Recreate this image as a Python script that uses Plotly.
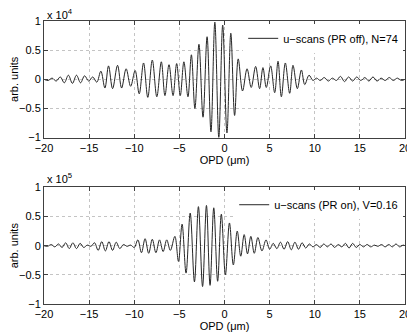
import plotly.graph_objects as go

# OPD positions (um) and signal extrema
# top panel values are in units of 1e4, bottom panel in units of 1e5
off_opd = [-20.0, -19.55, -19.1, -18.65, -18.2, -17.75, -17.3, -16.85, -16.4, -15.95,
           -15.5, -15.05, -14.6, -14.15, -13.7, -13.25, -12.85, -12.4, -11.85, -11.4,
           -10.9, -10.4, -9.9, -9.45, -8.97, -8.5, -8.0, -7.5, -7.0, -6.6,
           -6.15, -5.7, -5.3, -4.9, -4.5, -4.05, -3.67, -3.28, -2.83, -2.38,
           -1.93, -1.5, -1.07, -0.63, -0.2, 0.27, 0.7, 1.12, 1.52, 2.0,
           2.5, 2.96, 3.45, 3.89, 4.26, 4.63, 5.11, 5.56, 5.93, 6.3,
           6.74, 7.22, 7.59, 8.07, 8.52, 8.89, 9.37, 9.8, 10.2, 10.6,
           11.05, 11.5, 11.95, 12.4, 12.85, 13.3, 13.75, 14.2, 14.65, 15.1,
           15.55, 16.0, 16.45, 16.9, 17.35, 17.8, 18.25, 18.7, 19.15, 19.6, 20.0]
off_signal = [0.0, -0.02, 0.02, -0.03, 0.04, -0.06, 0.07, -0.07, 0.07, -0.06,
              0.06, -0.03, 0.04, -0.05, 0.14, -0.15, 0.23, -0.16, 0.24, -0.15,
              0.18, -0.12, 0.15, -0.25, 0.28, -0.31, 0.33, -0.3, 0.3, -0.28,
              0.25, -0.28, 0.27, -0.28, 0.3, -0.3, 0.42, -0.5, 0.6, -0.65,
              0.73, -0.9, 0.98, -1.0, 0.93, -0.92, 0.79, -0.62, 0.35, -0.2,
              0.18, -0.14, 0.22, -0.16, 0.2, -0.14, 0.23, -0.23, 0.31, -0.3,
              0.28, -0.24, 0.24, -0.16, 0.16, -0.09, 0.07, -0.02, 0.02, -0.02,
              0.03, -0.03, 0.02, -0.02, 0.05, -0.04, 0.04, -0.03, 0.04, -0.02,
              0.03, -0.03, 0.04, -0.03, 0.02, -0.02, 0.03, -0.02, 0.02, -0.02, 0.0]

on_opd = [-20.0, -19.6, -19.2, -18.8, -18.4, -18.0, -17.6, -17.2, -16.8, -16.4,
          -16.0, -15.6, -15.2, -14.8, -14.4, -14.0, -13.6, -13.2, -12.8, -12.4,
          -12.0, -11.6, -11.2, -10.8, -10.4, -10.0, -9.6, -9.2, -8.8, -8.4,
          -8.0, -7.6, -7.2, -6.8, -6.4, -6.0, -5.5, -5.1, -4.7, -4.26,
          -3.8, -3.33, -2.89, -2.43, -2.0, -1.6, -1.19, -0.76, -0.35, 0.1,
          0.55, 0.98, 1.41, 1.8, 2.18, 2.55, 2.92, 3.3, 3.7, 4.15,
          4.6, 5.0, 5.4, 5.8, 6.2, 6.6, 7.0, 7.4, 7.8, 8.2,
          8.6, 9.0, 9.4, 9.8, 10.2, 10.6, 11.0, 11.4, 11.8, 12.2,
          12.6, 13.0, 13.4, 13.8, 14.2, 14.6, 15.0, 15.4, 15.8, 16.2,
          16.6, 17.0, 17.4, 17.8, 18.2, 18.6, 19.0, 19.4, 19.8, 20.0]
on_signal = [0.0, -0.01, 0.02, -0.02, 0.03, -0.03, 0.05, -0.05, 0.05, -0.05,
             0.04, -0.03, 0.01, -0.01, 0.05, -0.08, 0.07, -0.09, 0.07, -0.08,
             0.06, -0.05, 0.02, -0.01, 0.01, -0.03, 0.1, -0.12, 0.12, -0.13,
             0.11, -0.12, 0.1, -0.1, 0.1, -0.08, 0.16, -0.27, 0.37, -0.47,
             0.56, -0.62, 0.67, -0.7, 0.69, -0.68, 0.65, -0.61, 0.54, -0.5,
             0.39, -0.33, 0.25, -0.18, 0.19, -0.14, 0.16, -0.13, 0.14, -0.09,
             0.1, -0.06, 0.04, -0.05, 0.06, -0.06, 0.07, -0.07, 0.06, -0.06,
             0.05, -0.04, 0.03, -0.02, 0.02, -0.03, 0.03, -0.02, 0.03, -0.03,
             0.02, -0.02, 0.04, -0.04, 0.04, -0.03, 0.02, -0.02, 0.02, -0.02,
             0.01, -0.01, 0.02, -0.02, 0.02, -0.02, 0.03, -0.02, 0.01, 0.0]

x_ticks = [-20, -15, -10, -5, 0, 5, 10, 15, 20]
y_ticks = [-1, -0.5, 0, 0.5, 1]

FONT = "Liberation Sans, Arial, sans-serif"
LINE = "#262626"

fig = go.Figure()

fig.add_trace(go.Scatter(
    x=off_opd, y=off_signal, mode="lines", line_shape="spline",
    line=dict(color=LINE, width=1),
    name="u\u2212scans (PR off), N=74",
    xaxis="x", yaxis="y", legend="legend", showlegend=True,
))
fig.add_trace(go.Scatter(
    x=on_opd, y=on_signal, mode="lines", line_shape="spline",
    line=dict(color=LINE, width=1),
    name="u\u2212scans (PR on), V=0.16",
    xaxis="x2", yaxis="y2", legend="legend2", showlegend=True,
))

axis_style = dict(
    showgrid=True, gridcolor="#c4c4c4", griddash="dot", gridwidth=1,
    showline=True, linecolor="#404040", linewidth=1, mirror="ticks",
    ticks="inside", ticklen=4, tickcolor="#404040",
    zeroline=False, automargin=False, tickfont=dict(size=11, color="black"),
)

x_style = dict(axis_style, range=[-20, 20], tickvals=x_ticks,
               title=dict(text="OPD (\u03bcm)", font=dict(size=11), standoff=0))
y_style = dict(axis_style, range=[-1, 1], tickvals=y_ticks,
               title=dict(text="arb. units", font=dict(size=11), standoff=4))

legend_style = dict(xanchor="right", yanchor="top", bgcolor="white",
                    borderwidth=0, font=dict(size=11), itemwidth=30,
                    tracegroupgap=0, visible=True)

# the page body adds an 8px margin, so the figure is sized to fill the rest
fig.update_layout(
    width=407, height=328,
    margin=dict(l=36, r=10, t=13, b=32),
    paper_bgcolor="white", plot_bgcolor="white",
    showlegend=True,
    font=dict(family=FONT, size=11, color="black"),
    xaxis=dict(x_style, domain=[0, 1], anchor="y"),
    yaxis=dict(y_style, domain=[0.588, 1], anchor="x"),
    xaxis2=dict(x_style, domain=[0, 1], anchor="y2"),
    yaxis2=dict(y_style, domain=[0, 0.412], anchor="x2"),
    legend=dict(legend_style, x=0.995, y=0.99),
    legend2=dict(legend_style, x=0.995, y=0.402),
    annotations=[
        dict(text="x 10<sup>4</sup>", x=0, y=1, xref="paper", yref="paper",
             xanchor="left", yanchor="bottom", showarrow=False,
             font=dict(size=11), xshift=1, yshift=-2),
        dict(text="x 10<sup>5</sup>", x=0, y=0.412, xref="paper", yref="paper",
             xanchor="left", yanchor="bottom", showarrow=False,
             font=dict(size=11), xshift=1, yshift=0),
    ],
)

fig.write_html("out.html")
